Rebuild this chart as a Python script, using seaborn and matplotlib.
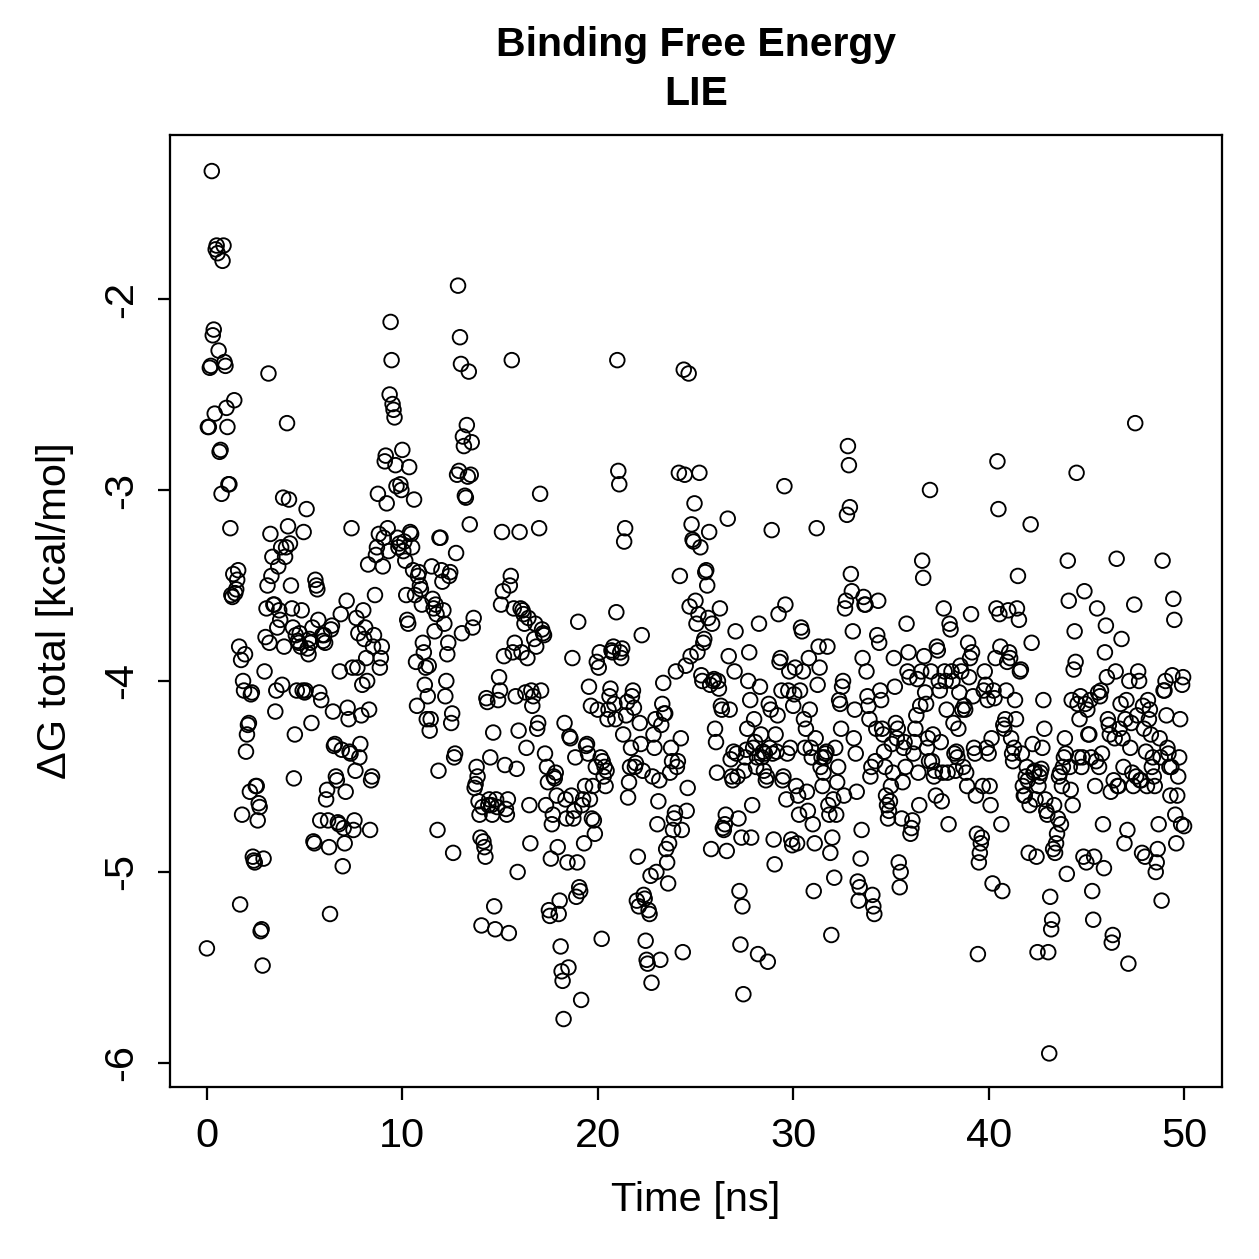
import numpy as np
import pandas as pd
import matplotlib
matplotlib.use('Agg')
import matplotlib.pyplot as plt
import seaborn as sns

# dG total (kcal/mol), one frame every 0.05 ns, in 10 ns blocks
dg_00_10 = [
    -5.40, -2.67, -2.67, -2.36, -2.35, -1.33, -2.19, -2.16, -2.60, -1.74, -1.72, -1.76, -2.27, -2.80, -2.79, -3.02, -1.80, -1.72, -2.33, -2.35,
    -2.57, -2.67, -2.97, -2.97, -3.20, -3.55, -3.56, -3.44, -2.53, -3.54, -3.52, -3.47, -3.42, -3.82, -5.17, -3.89, -4.70, -4.00, -4.05, -3.86,
    -4.37, -4.28, -4.23, -4.22, -4.58, -4.07, -4.06, -4.92, -4.94, -4.95, -4.55, -4.55, -4.73, -4.64, -4.66, -5.31, -5.30, -5.49, -4.93, -3.95,
    -3.77, -3.62, -3.50, -2.39, -3.80, -3.23, -3.45, -3.35, -3.60, -3.60, -4.16, -4.05, -3.72, -3.40, -3.63, -3.68, -3.30, -4.02, -3.04, -3.82,
    -3.35, -3.30, -2.65, -3.19, -3.05, -3.28, -3.50, -3.62, -3.72, -4.51, -4.28, -3.76, -4.05, -3.79, -3.80, -3.75, -3.82, -3.63, -4.05, -3.22,
    -4.06, -4.05, -3.10, -3.83, -3.86, -3.78, -3.80, -4.22, -3.72, -4.84, -4.85, -3.47, -3.50, -3.52, -3.68, -4.06, -4.73, -4.10, -3.76, -3.79,
    -3.76, -3.80, -4.62, -4.57, -4.73, -4.87, -5.22, -3.73, -3.71, -4.16, -4.34, -4.33, -4.50, -4.52, -4.74, -4.75, -3.95, -3.65, -4.36, -4.97,
    -4.77, -4.85, -4.58, -3.58, -4.14, -4.20, -4.37, -4.38, -3.20, -3.93, -4.78, -4.73, -4.47, -3.67, -3.93, -3.75, -4.40, -4.33, -4.18, -4.02,
    -3.63, -3.78, -3.72, -3.88, -4.00, -3.39, -4.15, -4.78, -4.52, -4.50, -3.82, -3.76, -3.55, -3.34, -3.30, -3.02, -3.23, -3.93, -3.88, -3.82,
    -3.40, -3.25, -2.85, -2.82, -3.07, -3.20, -3.32, -2.50, -2.12, -2.32, -2.55, -2.58, -2.62, -2.87, -2.98, -3.25, -3.30, -3.28, -2.97, -3.00,
]
dg_10_20 = [
    -2.79, -3.32, -3.27, -3.37, -3.55, -3.68, -3.70, -2.88, -3.22, -3.23, -3.30, -3.42, -3.05, -3.55, -3.90, -4.13, -3.45, -3.43, -3.50, -3.52,
    -3.60, -3.80, -3.85, -4.02, -3.93, -4.20, -4.08, -3.92, -4.26, -4.20, -3.40, -3.57, -3.62, -3.74, -3.60, -3.65, -4.78, -4.47, -3.25, -3.25,
    -3.42, -3.48, -3.63, -3.70, -4.08, -4.00, -3.86, -3.80, -3.45, -3.43, -4.22, -4.17, -4.90, -4.40, -4.38, -3.33, -2.92, -1.93, -2.90, -2.20,
    -2.34, -3.75, -2.72, -2.77, -3.03, -3.04, -2.66, -2.93, -2.38, -3.18, -2.92, -2.75, -3.72, -3.67, -4.56, -4.54, -4.45, -4.50, -4.63, -4.70,
    -4.82, -5.28, -4.66, -4.84, -4.87, -4.92, -4.09, -4.11, -4.65, -4.62, -4.40, -4.65, -4.70, -4.27, -5.18, -5.30, -4.62, -4.66, -4.10, -3.98,
    -4.05, -3.60, -3.22, -3.53, -3.87, -4.44, -4.67, -4.70, -4.62, -5.32, -3.50, -3.45, -2.32, -3.85, -3.62, -3.80, -4.08, -4.46, -5.00, -4.26,
    -3.22, -3.62, -3.85, -3.63, -3.65, -3.70, -4.06, -4.35, -3.88, -3.67, -4.65, -4.85, -4.05, -4.13, -4.08, -3.78, -3.70, -3.82, -4.25, -4.22,
    -3.20, -3.02, -4.05, -3.73, -3.75, -3.76, -4.38, -4.65, -4.45, -4.53, -5.20, -5.23, -4.93, -4.75, -4.70, -4.50, -4.51, -4.48, -4.60, -4.87,
    -5.22, -5.15, -5.39, -5.52, -5.57, -5.77, -4.22, -4.62, -4.72, -4.95, -5.50, -4.29, -4.30, -4.60, -3.88, -4.72, -4.68, -4.40, -5.13, -4.95,
    -3.69, -5.08, -5.10, -5.67, -4.65, -4.62, -4.85, -4.55, -4.34, -4.33, -4.38, -4.03, -4.62, -4.13, -4.72, -4.55, -4.73, -4.80, -4.45, -3.90,
]
dg_20_30 = [
    -4.15, -3.93, -3.85, -4.40, -5.35, -4.42, -4.50, -4.45, -4.55, -4.47, -4.20, -4.15, -4.08, -4.04, -3.84, -3.85, -3.82, -4.12, -4.20, -3.64,
    -2.32, -2.90, -2.97, -3.85, -3.88, -3.83, -4.28, -3.27, -3.20, -4.18, -4.11, -4.61, -4.53, -4.45, -4.35, -4.08, -4.05, -4.14, -4.45, -4.43,
    -5.15, -4.92, -5.18, -4.22, -4.33, -3.76, -4.47, -5.12, -5.14, -5.36, -5.46, -5.48, -5.20, -5.22, -5.02, -5.58, -4.50, -4.28, -4.35, -4.20,
    -5.00, -4.75, -4.63, -4.52, -5.46, -4.23, -4.12, -4.01, -4.17, -4.17, -4.88, -4.95, -5.06, -4.85, -4.48, -4.35, -4.42, -4.78, -4.72, -4.69,
    -3.95, -4.45, -4.42, -2.91, -3.45, -4.30, -4.78, -5.42, -2.37, -2.92, -3.92, -4.68, -4.56, -2.39, -3.61, -3.87, -3.18, -3.26, -3.27, -3.07,
    -3.58, -3.70, -3.85, -3.65, -2.91, -3.30, -3.97, -4.00, -3.80, -3.78, -3.43, -3.42, -3.50, -3.67, -3.22, -4.02, -4.88, -3.70, -4.00, -3.99,
    -4.25, -4.32, -4.48, -4.00, -4.04, -3.62, -4.13, -4.15, -4.77, -4.78, -4.75, -4.70, -4.89, -3.15, -3.87, -4.15, -4.41, -4.50, -4.52, -4.37,
    -3.95, -3.74, -4.38, -4.50, -4.72, -5.10, -5.38, -4.82, -5.18, -5.64, -4.47, -4.40, -4.36, -4.25, -4.00, -3.85, -4.10, -4.82, -4.65, -4.35,
    -4.20, -4.32, -4.45, -4.40, -5.43, -3.70, -4.03, -4.28, -4.40, -4.37, -4.47, -4.38, -4.52, -4.50, -5.47, -4.12, -4.35, -4.15, -3.21, -4.38,
    -4.83, -4.96, -4.28, -4.37, -4.18, -3.65, -3.90, -3.88, -4.05, -4.52, -4.50, -2.98, -3.60, -4.62, -4.38, -4.05, -3.95, -4.35, -4.83, -4.86,
]
dg_30_40 = [
    -4.13, -4.07, -3.93, -4.55, -4.85, -4.60, -4.70, -4.05, -3.72, -3.74, -3.95, -4.20, -4.35, -4.25, -4.58, -4.68, -3.88, -4.15, -4.35, -4.40,
    -4.75, -5.10, -4.85, -4.30, -3.20, -4.02, -3.82, -3.93, -4.45, -4.40, -4.55, -4.48, -4.40, -4.38, -4.37, -3.82, -4.65, -4.70, -4.90, -5.33,
    -4.82, -4.62, -5.03, -4.35, -4.70, -4.53, -4.45, -4.10, -4.12, -4.25, -4.03, -4.00, -4.60, -3.62, -3.58, -3.13, -2.77, -2.87, -3.09, -3.44,
    -3.53, -3.74, -4.30, -4.15, -4.38, -4.58, -5.05, -5.15, -5.08, -4.93, -4.78, -3.88, -3.56, -3.60, -3.60, -3.95, -4.08, -4.13, -4.20, -4.50,
    -4.45, -5.12, -5.18, -5.22, -4.42, -4.25, -3.76, -3.58, -3.80, -4.05, -4.10, -4.25, -4.28, -4.37, -4.45, -4.60, -4.65, -4.72, -4.68, -4.63,
    -4.55, -4.33, -4.48, -3.88, -4.03, -4.22, -4.30, -4.25, -4.95, -5.08, -5.00, -4.72, -4.53, -4.35, -4.32, -4.45, -3.70, -3.95, -3.85, -3.98,
    -4.80, -4.77, -4.73, -4.38, -4.32, -4.25, -4.18, -3.99, -4.48, -4.65, -4.13, -3.95, -3.37, -3.46, -3.87, -4.06, -4.12, -4.35, -4.30, -4.42,
    -3.00, -3.95, -4.42, -4.28, -4.50, -4.47, -4.60, -3.82, -3.84, -4.00, -4.05, -4.32, -4.63, -4.48, -3.62, -3.95, -4.00, -4.15, -4.48, -4.75,
    -3.70, -3.73, -3.95, -4.00, -4.22, -4.38, -4.47, -4.37, -4.40, -4.25, -4.06, -3.92, -3.95, -4.15, -4.45, -4.13, -4.15, -4.48, -4.55, -3.80,
    -3.98, -3.88, -3.65, -3.85, -4.08, -4.35, -4.38, -4.60, -4.80, -5.43, -4.95, -4.90, -4.85, -4.82, -4.55, -4.05, -3.95, -4.02, -4.35, -4.10,
]
dg_40_50 = [
    -4.38, -4.55, -4.65, -4.30, -5.06, -4.05, -4.09, -3.88, -3.62, -2.85, -3.10, -3.65, -3.82, -4.75, -5.10, -4.23, -4.25, -4.20, -4.05, -3.90,
    -3.63, -3.85, -3.88, -4.30, -4.38, -4.42, -4.35, -4.10, -4.20, -3.62, -3.45, -3.68, -3.95, -3.94, -4.38, -4.55, -4.60, -4.60, -4.50, -4.45,
    -4.52, -4.90, -4.65, -3.18, -3.80, -4.33, -4.48, -4.47, -4.62, -4.92, -5.42, -4.55, -4.50, -4.48, -4.46, -4.35, -4.10, -4.25, -4.62, -4.68,
    -4.70, -5.42, -5.95, -5.13, -5.30, -5.25, -4.88, -4.65, -4.90, -4.85, -4.80, -4.72, -4.50, -4.48, -4.75, -4.55, -4.45, -4.40, -4.30, -4.38,
    -5.01, -3.37, -3.58, -4.45, -4.57, -4.10, -4.65, -3.94, -3.74, -3.90, -2.91, -4.12, -4.40, -4.20, -4.08, -4.45, -4.40, -4.92, -3.53, -4.12,
    -4.95, -4.15, -4.28, -4.28, -4.10, -4.40, -5.10, -5.25, -4.92, -4.55, -4.42, -3.62, -4.06, -4.45, -4.08, -4.05, -4.38, -4.75, -4.98, -3.85,
    -3.71, -3.98, -4.20, -4.23, -4.28, -4.58, -5.37, -5.33, -4.52, -4.30, -3.95, -3.36, -4.55, -4.55, -4.25, -4.12, -3.78, -4.30, -4.45, -4.85,
    -4.20, -4.10, -4.78, -5.48, -4.00, -4.35, -4.22, -4.48, -4.55, -3.60, -2.65, -4.50, -4.18, -3.95, -4.00, -4.52, -4.52, -4.90, -4.13, -4.25,
    -4.92, -4.37, -4.55, -4.10, -4.20, -4.15, -4.28, -4.45, -4.40, -4.50, -4.55, -5.00, -4.95, -4.88, -4.75, -4.30, -4.40, -5.15, -3.37, -4.05,
    -4.05, -4.00, -4.18, -4.35, -4.38, -4.45, -4.60, -4.45, -3.97, -3.57, -3.68, -4.70, -4.85, -4.60, -4.50, -4.40, -4.20, -4.75, -4.02, -3.98,
    -4.76,
]

dg_total = dg_00_10 + dg_10_20 + dg_20_30 + dg_30_40 + dg_40_50
time_ns = np.arange(len(dg_total)) * 0.05

df = pd.DataFrame({'time': time_ns, 'dg': dg_total})

sns.set_style('white')
plt.rcParams['font.family'] = ['Liberation Sans', 'DejaVu Sans']
plt.rcParams['text.color'] = 'black'
plt.rcParams['axes.labelcolor'] = 'black'

fig = plt.figure(figsize=(1259 / 180, 1259 / 180), dpi=180)
ax = fig.add_axes([0.135, 0.1366, 0.8356, 0.7562])

sns.scatterplot(data=df, x='time', y='dg', ax=ax, marker='o', s=34,
                facecolor='none', edgecolor='black', linewidth=0.75)

ax.set_xlim(-1.89, 51.94)
ax.set_ylim(-6.126, -1.141)
ax.set_xticks([0, 10, 20, 30, 40, 50])
ax.set_yticks([-2, -3, -4, -5, -6])
ax.set_yticklabels(['-2', '-3', '-4', '-5', '-6'], rotation=90, va='center')
ax.tick_params(direction='out', length=5, width=0.9, labelsize=16.6, pad=7,
               bottom=True, left=True, colors='black')

for s in ax.spines.values():
    s.set_visible(True)
    s.set_color('black')
    s.set_linewidth(0.9)

ax.set_xlabel('Time [ns]', fontsize=16.6, color='black')
ax.set_ylabel('ΔG total [kcal/mol]', fontsize=16.6, color='black')
ax.xaxis.set_label_coords(0.5, -0.1187)
ax.yaxis.set_label_coords(-0.1093, 0.5)
ax.xaxis.label.set_va('center')
ax.yaxis.label.set_va('center')

fig.text(0.553, 0.964, 'Binding Free Energy', ha='center', va='center',
         fontsize=16.4, fontweight='bold', color='black')
fig.text(0.553, 0.925, 'LIE', ha='center', va='center',
         fontsize=16.4, fontweight='bold', color='black')

fig.savefig('out.png', dpi=180)
